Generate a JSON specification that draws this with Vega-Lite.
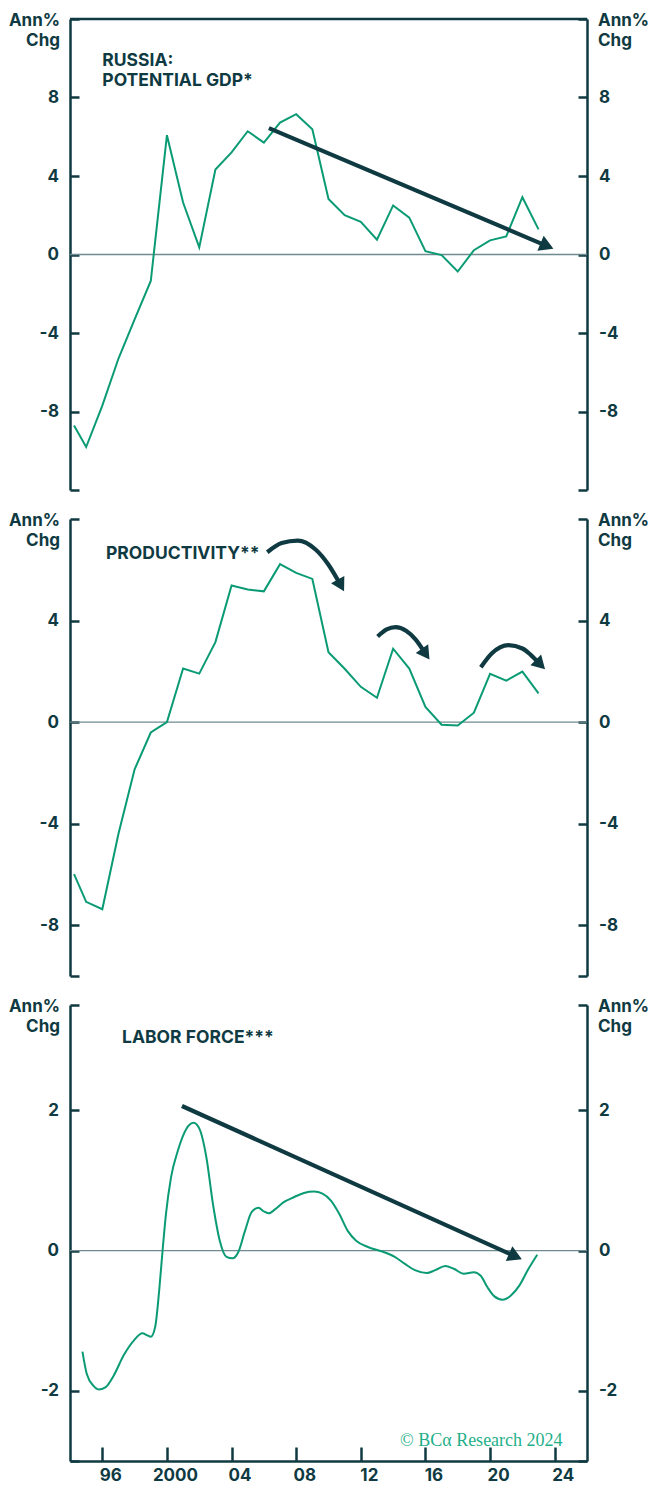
{
  "$schema": "https://vega.github.io/schema/vega-lite/v6.json",
  "background": "white",
  "padding": {"left": 8, "top": 11, "right": 6, "bottom": 6},
  "spacing": 29,
  "bounds": "flush",
  "config": {
    "view": {"stroke": null},
    "font": "Inter",
    "axis": {
      "grid": false,
      "domainColor": "#0f3a42",
      "domainWidth": 2.5,
      "tickColor": "#0f3a42",
      "tickWidth": 2.5,
      "tickSize": -9,
      "labelPadding": 20.5,
      "labelFont": "Inter",
      "labelFontSize": 17,
      "labelFontWeight": 700,
      "labelColor": "#0f3a42",
      "titleFont": "Inter",
      "titleFontSize": 17,
      "titleFontWeight": 700,
      "titleColor": "#0f3a42",
      "titleAngle": 0,
      "titleBaseline": "alphabetic",
      "titleY": 6,
      "titleLineHeight": 20
    },
    "axisLeft": {"titleAlign": "right", "titleX": -10.5},
    "axisRight": {"titleAlign": "left", "titleX": 10.5}
  },
  "datasets": {
    "potential_gdp": [
      {"year": 1994.25, "pct": -8.71}, {"year": 1995, "pct": -9.81}, {"year": 1996, "pct": -7.7},
      {"year": 1997, "pct": -5.3}, {"year": 1998, "pct": -3.3}, {"year": 1999, "pct": -1.35},
      {"year": 2000, "pct": 6.08}, {"year": 2001, "pct": 2.65}, {"year": 2002, "pct": 0.36},
      {"year": 2003, "pct": 4.33}, {"year": 2004, "pct": 5.2}, {"year": 2005, "pct": 6.28},
      {"year": 2006, "pct": 5.7}, {"year": 2007, "pct": 6.72}, {"year": 2008, "pct": 7.15},
      {"year": 2009, "pct": 6.38}, {"year": 2010, "pct": 2.83}, {"year": 2011, "pct": 2.0},
      {"year": 2012, "pct": 1.66}, {"year": 2013, "pct": 0.75}, {"year": 2014, "pct": 2.5},
      {"year": 2015, "pct": 1.88}, {"year": 2016, "pct": 0.17}, {"year": 2017, "pct": -0.03},
      {"year": 2018, "pct": -0.87}, {"year": 2019, "pct": 0.22}, {"year": 2020, "pct": 0.72},
      {"year": 2021, "pct": 0.92}, {"year": 2022, "pct": 2.92}, {"year": 2023, "pct": 1.28}
    ],
    "productivity": [
      {"year": 1994.25, "pct": -5.99}, {"year": 1995, "pct": -7.08}, {"year": 1996, "pct": -7.37},
      {"year": 1997, "pct": -4.4}, {"year": 1998, "pct": -1.86}, {"year": 1999, "pct": -0.41},
      {"year": 2000, "pct": 0.0}, {"year": 2001, "pct": 2.11}, {"year": 2002, "pct": 1.91},
      {"year": 2003, "pct": 3.15}, {"year": 2004, "pct": 5.38}, {"year": 2005, "pct": 5.22},
      {"year": 2006, "pct": 5.15}, {"year": 2007, "pct": 6.22}, {"year": 2008, "pct": 5.88},
      {"year": 2009, "pct": 5.64}, {"year": 2010, "pct": 2.75}, {"year": 2011, "pct": 2.1},
      {"year": 2012, "pct": 1.39}, {"year": 2013, "pct": 0.96}, {"year": 2014, "pct": 2.89},
      {"year": 2015, "pct": 2.11}, {"year": 2016, "pct": 0.6}, {"year": 2017, "pct": -0.1},
      {"year": 2018, "pct": -0.13}, {"year": 2019, "pct": 0.37}, {"year": 2020, "pct": 1.9},
      {"year": 2021, "pct": 1.63}, {"year": 2022, "pct": 1.99}, {"year": 2023, "pct": 1.13}
    ],
    "labor_force": [
      {"year": 1994.77, "pct": -1.44}, {"year": 1995.04, "pct": -1.76}, {"year": 1995.46, "pct": -1.93},
      {"year": 1995.77, "pct": -1.98}, {"year": 1996.19, "pct": -1.95}, {"year": 1996.71, "pct": -1.78},
      {"year": 1997.33, "pct": -1.49}, {"year": 1997.96, "pct": -1.28}, {"year": 1998.48, "pct": -1.18},
      {"year": 1998.79, "pct": -1.21}, {"year": 1999.0, "pct": -1.23}, {"year": 1999.27, "pct": -1.09},
      {"year": 1999.52, "pct": -0.57}, {"year": 1999.73, "pct": 0.0}, {"year": 1999.94, "pct": 0.52},
      {"year": 2000.25, "pct": 1.04}, {"year": 2000.67, "pct": 1.42}, {"year": 2001.19, "pct": 1.73},
      {"year": 2001.65, "pct": 1.82}, {"year": 2002.02, "pct": 1.73}, {"year": 2002.44, "pct": 1.33},
      {"year": 2002.85, "pct": 0.66}, {"year": 2003.27, "pct": 0.14}, {"year": 2003.69, "pct": -0.09},
      {"year": 2004.06, "pct": -0.11}, {"year": 2004.42, "pct": -0.02}, {"year": 2004.83, "pct": 0.28},
      {"year": 2005.25, "pct": 0.55}, {"year": 2005.67, "pct": 0.61}, {"year": 2005.98, "pct": 0.56},
      {"year": 2006.29, "pct": 0.53}, {"year": 2006.71, "pct": 0.59}, {"year": 2007.23, "pct": 0.69},
      {"year": 2007.85, "pct": 0.76}, {"year": 2008.48, "pct": 0.82}, {"year": 2009.1, "pct": 0.84},
      {"year": 2009.63, "pct": 0.81}, {"year": 2010.15, "pct": 0.71}, {"year": 2010.67, "pct": 0.52},
      {"year": 2011.19, "pct": 0.28}, {"year": 2011.71, "pct": 0.14}, {"year": 2012.44, "pct": 0.05},
      {"year": 2013.27, "pct": -0.01}, {"year": 2014.1, "pct": -0.09}, {"year": 2014.73, "pct": -0.19},
      {"year": 2015.35, "pct": -0.28}, {"year": 2016.08, "pct": -0.32}, {"year": 2016.6, "pct": -0.28},
      {"year": 2017.23, "pct": -0.22}, {"year": 2017.75, "pct": -0.26}, {"year": 2018.38, "pct": -0.33},
      {"year": 2019.0, "pct": -0.31}, {"year": 2019.42, "pct": -0.36}, {"year": 2019.83, "pct": -0.52},
      {"year": 2020.25, "pct": -0.65}, {"year": 2020.77, "pct": -0.7}, {"year": 2021.29, "pct": -0.64},
      {"year": 2021.81, "pct": -0.5}, {"year": 2022.33, "pct": -0.28}, {"year": 2022.92, "pct": -0.06}
    ],
    "productivity_arcs": [
      {"arc": "a", "year": 2006.21, "pct": 6.69}, {"arc": "a", "year": 2007.1, "pct": 7.05},
      {"arc": "a", "year": 2008.09, "pct": 7.15}, {"arc": "a", "year": 2009.2, "pct": 6.8},
      {"arc": "a", "year": 2010.0, "pct": 6.2}, {"arc": "a", "year": 2010.7, "pct": 5.46},
      {"arc": "b", "year": 2013.04, "pct": 3.37}, {"arc": "b", "year": 2013.6, "pct": 3.65},
      {"arc": "b", "year": 2014.15, "pct": 3.74}, {"arc": "b", "year": 2014.8, "pct": 3.6},
      {"arc": "b", "year": 2015.4, "pct": 3.25}, {"arc": "b", "year": 2015.94, "pct": 2.75},
      {"arc": "c", "year": 2019.43, "pct": 2.16}, {"arc": "c", "year": 2020.1, "pct": 2.7},
      {"arc": "c", "year": 2021.14, "pct": 3.03}, {"arc": "c", "year": 2022.0, "pct": 2.9},
      {"arc": "c", "year": 2022.5, "pct": 2.66}, {"arc": "c", "year": 2023.02, "pct": 2.33}
    ],
    "gdp_trend": [{"from_year": 2006.31, "from_pct": 6.44, "to_year": 2023.39, "to_pct": 0.48}],
    "labor_trend": [{"from_year": 2000.93, "from_pct": 2.06, "to_year": 2021.44, "to_pct": -0.07}]
  },
  "vconcat": [
    {
      "width": 517,
      "height": 471,
      "resolve": {"axis": {"y": "independent", "x": "independent"}},
      "layer": [
        {
          "data": {"values": [{}]},
          "mark": {"type": "rule", "color": "#6f8b8f", "strokeWidth": 1.3},
          "encoding": {"y": {"datum": 0, "type": "quantitative", "scale": {"domain": [-12, 12], "nice": false, "zero": false}, "axis": null}}
        },
        {
          "data": {"values": [{}]},
          "mark": {"type": "rule", "color": "#0f3a42", "strokeWidth": 2.5},
          "encoding": {"y": {"datum": 12, "type": "quantitative", "scale": {"domain": [-12, 12], "nice": false, "zero": false}, "axis": null}}
        },
        {
          "data": {"name": "potential_gdp"},
          "mark": {"type": "line", "color": "#0b9b74", "strokeWidth": 2},
          "encoding": {
            "x": {"field": "year", "type": "quantitative", "scale": {"domain": [1994, 2026], "nice": false, "zero": false}, "axis": null},
            "y": {"field": "pct", "type": "quantitative", "scale": {"domain": [-12, 12], "nice": false, "zero": false},
              "axis": {"orient": "left", "values": [-12, -8, -4, 0, 4, 8, 12], "labelExpr": "abs(datum.value) == 12 ? '' : '' + datum.value", "title": ["Ann%", "Chg"]}}
          }
        },
        {
          "data": {"name": "gdp_trend"},
          "mark": {"type": "rule", "color": "#0f3a42", "strokeWidth": 4.2},
          "encoding": {
            "x": {"field": "from_year", "type": "quantitative", "scale": {"domain": [1994, 2026], "nice": false, "zero": false}, "axis": null},
            "x2": {"field": "to_year"},
            "y": {"field": "from_pct", "type": "quantitative", "scale": {"domain": [-12, 12], "nice": false, "zero": false},
              "axis": {"orient": "right", "values": [-12, -8, -4, 0, 4, 8, 12], "labelExpr": "abs(datum.value) == 12 ? '' : '' + datum.value", "title": ["Ann%", "Chg"]}},
            "y2": {"field": "to_pct"}
          }
        },
        {
          "data": {"name": "gdp_trend"},
          "mark": {"type": "point", "shape": "triangle", "filled": true, "size": 260, "angle": 113, "color": "#0f3a42", "opacity": 1},
          "encoding": {
            "x": {"field": "to_year", "type": "quantitative", "scale": {"domain": [1994, 2026], "nice": false, "zero": false}, "axis": null},
            "y": {"field": "to_pct", "type": "quantitative", "scale": {"domain": [-12, 12], "nice": false, "zero": false}, "axis": null}
          }
        },
        {
          "data": {"values": [{"year": 1996.0, "pct": 9.63, "label": "RUSSIA:\nPOTENTIAL GDP*"}]},
          "mark": {"type": "text", "align": "left", "baseline": "alphabetic", "lineBreak": "\n", "lineHeight": 20, "font": "Inter", "fontSize": 17.5, "fontWeight": 700, "color": "#0f3a42"},
          "encoding": {
            "x": {"field": "year", "type": "quantitative", "scale": {"domain": [1994, 2026], "nice": false, "zero": false}, "axis": null},
            "y": {"field": "pct", "type": "quantitative", "scale": {"domain": [-12, 12], "nice": false, "zero": false}, "axis": null},
            "text": {"field": "label"}
          }
        }
      ]
    },
    {
      "width": 517,
      "height": 457,
      "resolve": {"axis": {"y": "independent", "x": "independent"}},
      "layer": [
        {
          "data": {"values": [{}]},
          "mark": {"type": "rule", "color": "#6f8b8f", "strokeWidth": 1.3},
          "encoding": {"y": {"datum": 0, "type": "quantitative", "scale": {"domain": [-10, 8], "nice": false, "zero": false}, "axis": null}}
        },
        {
          "data": {"name": "productivity"},
          "mark": {"type": "line", "color": "#0b9b74", "strokeWidth": 2},
          "encoding": {
            "x": {"field": "year", "type": "quantitative", "scale": {"domain": [1994, 2026], "nice": false, "zero": false}, "axis": null},
            "y": {"field": "pct", "type": "quantitative", "scale": {"domain": [-10, 8], "nice": false, "zero": false},
              "axis": {"orient": "left", "values": [-10, -8, -4, 0, 4, 8], "labelExpr": "datum.value == -10 || datum.value == 8 ? '' : '' + datum.value", "title": ["Ann%", "Chg"]}}
          }
        },
        {
          "data": {"name": "productivity_arcs"},
          "mark": {"type": "line", "color": "#0f3a42", "strokeWidth": 4.2, "interpolate": "monotone"},
          "encoding": {
            "x": {"field": "year", "type": "quantitative", "scale": {"domain": [1994, 2026], "nice": false, "zero": false}, "axis": null},
            "y": {"field": "pct", "type": "quantitative", "scale": {"domain": [-10, 8], "nice": false, "zero": false},
              "axis": {"orient": "right", "values": [-10, -8, -4, 0, 4, 8], "labelExpr": "datum.value == -10 || datum.value == 8 ? '' : '' + datum.value", "title": ["Ann%", "Chg"]}},
            "detail": {"field": "arc"}
          }
        },
        {
          "data": {"values": [{"year": 2010.7, "pct": 5.46}]},
          "mark": {"type": "point", "shape": "triangle", "filled": true, "size": 230, "angle": 151, "color": "#0f3a42", "opacity": 1},
          "encoding": {
            "x": {"field": "year", "type": "quantitative", "scale": {"domain": [1994, 2026], "nice": false, "zero": false}, "axis": null},
            "y": {"field": "pct", "type": "quantitative", "scale": {"domain": [-10, 8], "nice": false, "zero": false}, "axis": null}
          }
        },
        {
          "data": {"values": [{"year": 2015.94, "pct": 2.75}]},
          "mark": {"type": "point", "shape": "triangle", "filled": true, "size": 230, "angle": 145, "color": "#0f3a42", "opacity": 1},
          "encoding": {
            "x": {"field": "year", "type": "quantitative", "scale": {"domain": [1994, 2026], "nice": false, "zero": false}, "axis": null},
            "y": {"field": "pct", "type": "quantitative", "scale": {"domain": [-10, 8], "nice": false, "zero": false}, "axis": null}
          }
        },
        {
          "data": {"values": [{"year": 2023.02, "pct": 2.33}]},
          "mark": {"type": "point", "shape": "triangle", "filled": true, "size": 230, "angle": 135, "color": "#0f3a42", "opacity": 1},
          "encoding": {
            "x": {"field": "year", "type": "quantitative", "scale": {"domain": [1994, 2026], "nice": false, "zero": false}, "axis": null},
            "y": {"field": "pct", "type": "quantitative", "scale": {"domain": [-10, 8], "nice": false, "zero": false}, "axis": null}
          }
        },
        {
          "data": {"values": [{"year": 1996.23, "pct": 6.42, "label": "PRODUCTIVITY**"}]},
          "mark": {"type": "text", "align": "left", "baseline": "alphabetic", "font": "Inter", "fontSize": 17.5, "fontWeight": 700, "color": "#0f3a42"},
          "encoding": {
            "x": {"field": "year", "type": "quantitative", "scale": {"domain": [1994, 2026], "nice": false, "zero": false}, "axis": null},
            "y": {"field": "pct", "type": "quantitative", "scale": {"domain": [-10, 8], "nice": false, "zero": false}, "axis": null},
            "text": {"field": "label"}
          }
        }
      ]
    },
    {
      "width": 517,
      "height": 456,
      "resolve": {"axis": {"y": "independent", "x": "independent"}},
      "layer": [
        {
          "data": {"values": [{}]},
          "mark": {"type": "rule", "color": "#6f8b8f", "strokeWidth": 1.3},
          "encoding": {"y": {"datum": 0, "type": "quantitative", "scale": {"domain": [-3, 3.5], "nice": false, "zero": false}, "axis": null}}
        },
        {
          "data": {"name": "labor_force"},
          "mark": {"type": "line", "color": "#0b9b74", "strokeWidth": 2, "interpolate": "monotone"},
          "encoding": {
            "x": {"field": "year", "type": "quantitative", "scale": {"domain": [1994, 2026], "nice": false, "zero": false},
              "axis": {"orient": "bottom", "values": [1996, 2000, 2004, 2008, 2012, 2016, 2020, 2024], "format": "d",
                "labelExpr": "datum.value == 2000 ? datum.label : substring(datum.label, 2, 4)",
                "tickSize": -14, "labelPadding": 20, "labelOffset": 8, "labelBaseline": "top", "title": null}},
            "y": {"field": "pct", "type": "quantitative", "scale": {"domain": [-3, 3.5], "nice": false, "zero": false},
              "axis": {"orient": "left", "values": [-3, -2, 0, 2, 3.5], "labelExpr": "abs(datum.value) == 2 || datum.value == 0 ? '' + datum.value : ''", "title": ["Ann%", "Chg"]}}
          }
        },
        {
          "data": {"name": "labor_trend"},
          "mark": {"type": "rule", "color": "#0f3a42", "strokeWidth": 4.2},
          "encoding": {
            "x": {"field": "from_year", "type": "quantitative", "scale": {"domain": [1994, 2026], "nice": false, "zero": false}, "axis": null},
            "x2": {"field": "to_year"},
            "y": {"field": "from_pct", "type": "quantitative", "scale": {"domain": [-3, 3.5], "nice": false, "zero": false},
              "axis": {"orient": "right", "values": [-3, -2, 0, 2, 3.5], "labelExpr": "abs(datum.value) == 2 || datum.value == 0 ? '' + datum.value : ''", "title": ["Ann%", "Chg"]}},
            "y2": {"field": "to_pct"}
          }
        },
        {
          "data": {"name": "labor_trend"},
          "mark": {"type": "point", "shape": "triangle", "filled": true, "size": 260, "angle": 114, "color": "#0f3a42", "opacity": 1},
          "encoding": {
            "x": {"field": "to_year", "type": "quantitative", "scale": {"domain": [1994, 2026], "nice": false, "zero": false}, "axis": null},
            "y": {"field": "to_pct", "type": "quantitative", "scale": {"domain": [-3, 3.5], "nice": false, "zero": false}, "axis": null}
          }
        },
        {
          "data": {"values": [{"year": 1997.22, "pct": 2.96, "label": "LABOR FORCE***"}]},
          "mark": {"type": "text", "align": "left", "baseline": "alphabetic", "font": "Inter", "fontSize": 17.5, "fontWeight": 700, "color": "#0f3a42"},
          "encoding": {
            "x": {"field": "year", "type": "quantitative", "scale": {"domain": [1994, 2026], "nice": false, "zero": false}, "axis": null},
            "y": {"field": "pct", "type": "quantitative", "scale": {"domain": [-3, 3.5], "nice": false, "zero": false}, "axis": null},
            "text": {"field": "label"}
          }
        },
        {
          "data": {"values": [{"year": 2024.49, "pct": -2.79, "label": "© BCα Research 2024"}]},
          "mark": {"type": "text", "align": "right", "baseline": "alphabetic", "font": "Liberation Serif", "fontSize": 18, "color": "#1fb08a"},
          "encoding": {
            "x": {"field": "year", "type": "quantitative", "scale": {"domain": [1994, 2026], "nice": false, "zero": false}, "axis": null},
            "y": {"field": "pct", "type": "quantitative", "scale": {"domain": [-3, 3.5], "nice": false, "zero": false}, "axis": null},
            "text": {"field": "label"}
          }
        }
      ]
    }
  ]
}
